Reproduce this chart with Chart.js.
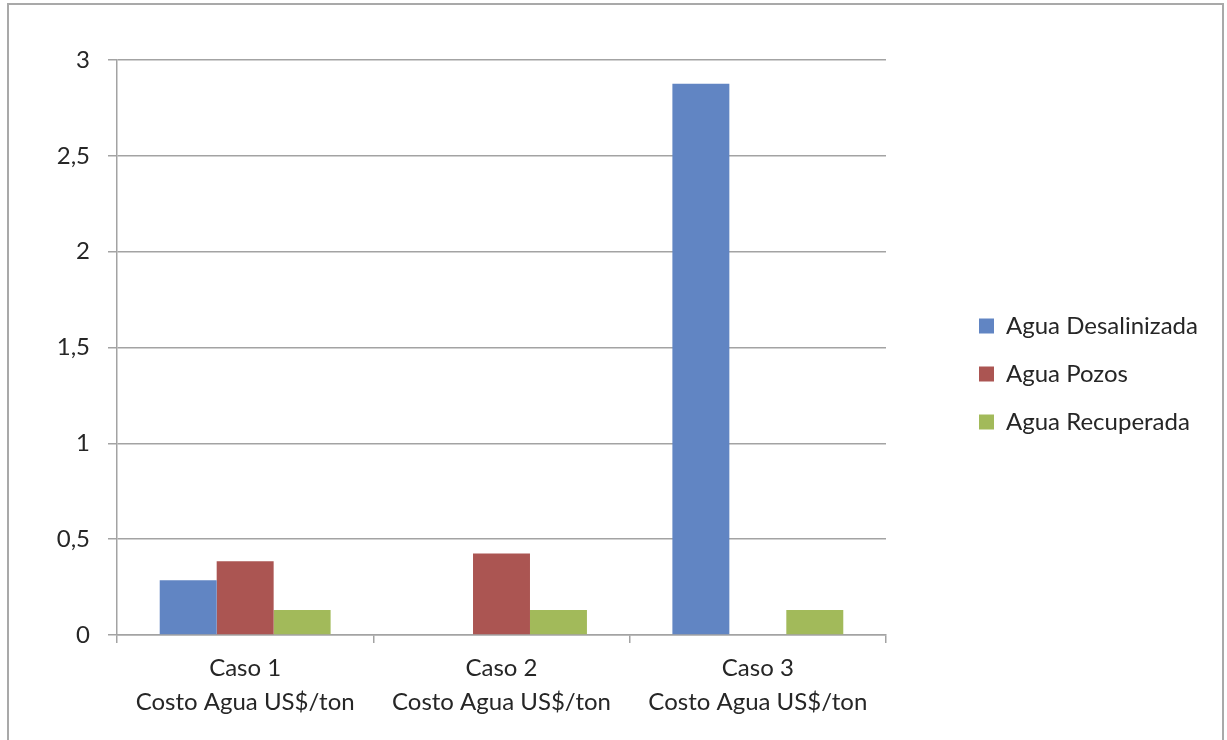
<!DOCTYPE html>
<html>
<head>
<meta charset="utf-8">
<script src="https://cdn.jsdelivr.net/npm/chart.js@4/dist/chart.umd.min.js"></script>
<style>
  html, body { margin: 0; padding: 0; background: #fff; overflow: hidden; }
  #wrap { position: relative; width: 1227px; height: 740px; }
  #frame {
    position: absolute; left: 7px; top: 3px; width: 1213px; height: 800px;
    border: 2px solid #a9a9a9; pointer-events: none;
  }
</style>
</head>
<body>
<div id="wrap">
  <canvas id="chart" width="1227" height="740"></canvas>
  <div id="frame"></div>
</div>
<script>
  var categories = [
    ['Caso 1', 'Costo Agua US$/ton'],
    ['Caso 2', 'Costo Agua US$/ton'],
    ['Caso 3', 'Costo Agua US$/ton']
  ];
  var seriesNames = ['Agua Desalinizada', 'Agua Pozos', 'Agua Recuperada'];
  var desalinizada = [0.286, 0, 2.876];
  var pozos = [0.385, 0.425, 0];
  var recuperada = [0.13, 0.13, 0.13];
  var yTicks = [0, 0.5, 1, 1.5, 2, 2.5, 3];

  var colors = ['#6185c3', '#ab5552', '#a2ba5a'];
  var gridColor = '#a3a3a3';
  var textColor = '#262626';
  var fontFamily = 'Lato, "Open Sans", sans-serif';

  // legend sits in a fixed slot to the right of the plot,
  // centred on the whole canvas height
  var plotRight = 886;
  var legendBoxX = 979;
  var legendCenterY = 374;

  var legendSlot = {
    id: 'legendSlot',
    beforeLayout: function (chart) {
      var lg = chart.legend;
      if (lg && !lg._slotPatched) {
        var fit = lg.fit;
        lg.fit = function () {
          fit.call(this);
          this.width = chart.width - plotRight;
        };
        lg._slotPatched = true;
      }
    },
    afterLayout: function (chart) {
      var lg = chart.legend;
      var dx = legendBoxX - (lg.left + lg.options.labels.padding);
      var dy = legendCenterY - (lg.top + lg.bottom) / 2;
      lg.left += dx;
      lg.right += dx;
      lg.top += dy;
      lg.bottom += dy;
    }
  };

  var datasets = [desalinizada, pozos, recuperada].map(function (values, i) {
    return {
      label: seriesNames[i],
      data: values,
      backgroundColor: colors[i],
      borderWidth: 0,
      categoryPercentage: 2 / 3,
      barPercentage: 1
    };
  });

  new Chart(document.getElementById('chart'), {
    type: 'bar',
    data: { labels: categories, datasets: datasets },
    plugins: [legendSlot],
    options: {
      responsive: false,
      animation: false,
      layout: { padding: { top: 60, left: 0, right: 0, bottom: 0 } },
      plugins: {
        tooltip: { enabled: false },
        legend: {
          position: 'right',
          labels: {
            boxWidth: 15,
            boxHeight: 15,
            padding: 24,
            color: textColor,
            font: { family: fontFamily, size: 24 }
          }
        }
      },
      scales: {
        x: {
          grid: {
            offset: true,
            drawOnChartArea: false,
            drawTicks: true,
            tickLength: 8,
            color: gridColor,
            lineWidth: 1.5
          },
          border: { color: gridColor, width: 1.5 },
          ticks: {
            color: textColor,
            padding: 8,
            maxRotation: 0,
            font: { family: fontFamily, size: 24, lineHeight: 1.417 }
          },
          afterFit: function (scale) { scale.height = 105; }
        },
        y: {
          min: 0,
          max: 3,
          afterBuildTicks: function (scale) {
            scale.ticks = yTicks.map(function (v) { return { value: v }; });
          },
          grid: {
            color: gridColor,
            lineWidth: 1.5,
            tickLength: 9
          },
          border: { color: gridColor, width: 1.5 },
          ticks: {
            color: textColor,
            padding: 18,
            font: { family: fontFamily, size: 24 },
            callback: function (v) { return String(v).replace('.', ','); }
          },
          afterFit: function (scale) { scale.width = 117; }
        }
      }
    }
  });
</script>
</body>
</html>
